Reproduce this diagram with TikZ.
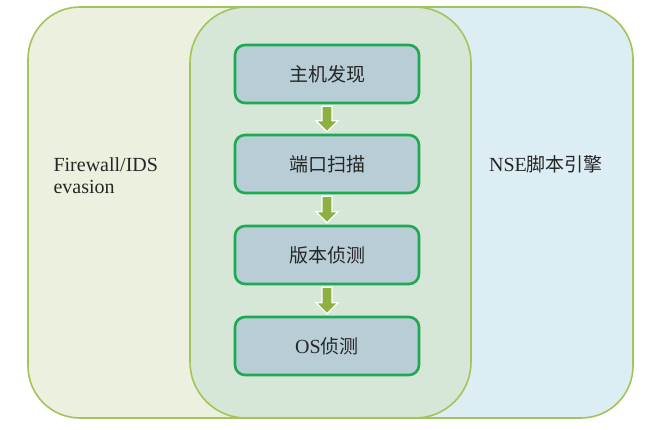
\documentclass[tikz,border=0pt]{standalone}
\usepackage{fontspec}
\setmainfont{Liberation Serif}
\newfontfamily\cjk{Noto Sans CJK SC}
\usetikzlibrary{calc}
\definecolor{leftfill}{HTML}{EBF1DE}
\definecolor{rightfill}{HTML}{DCEDF4}
\definecolor{midfill}{HTML}{D6E7D8}
\definecolor{outline}{HTML}{A3C45C}
\definecolor{boxfill}{HTML}{B8CDD6}
\definecolor{boxline}{HTML}{1EAA50}
\definecolor{arrowfill}{HTML}{8DB043}
\begin{document}
\begin{tikzpicture}[x=1pt,y=-1pt,
  region/.style={draw=outline,line width=1.6pt,rounded corners=52pt},
  stepbox/.style={draw=boxline,fill=boxfill,line width=2.6pt,rounded corners=10pt,
    minimum width=184pt,minimum height=58pt,inner sep=0pt,font=\cjk\fontsize{19}{22}\selectfont,text=black!85},
  blockarrow/.style={fill=arrowfill,draw=white,line width=1.2pt,line join=miter}]
\useasboundingbox (0,0) rectangle (646,429);
\fill[white] (0,0) rectangle (646,429);
\draw[region,fill=leftfill] (28,7) rectangle (440,418);
\draw[region,fill=rightfill] (220,7) rectangle (633,418);
\draw[region,fill=midfill,rounded corners=56pt] (190,7) rectangle (471,418);
\node[stepbox] (b1) at (327,74) {主机发现};
\node[stepbox] (b2) at (327,164) {端口扫描};
\node[stepbox] (b3) at (327,255) {版本侦测};
\node[stepbox] (b4) at (327,346) {{\rmfamily\fontsize{20}{22}\selectfont OS}侦测};
\foreach \a/\b in {b1/b2,b2/b3,b3/b4}{
  \draw[blockarrow] ($(\a.south)+(-5,2)$) -- ($(\a.south)+(5,2)$) -- ($(\b.north)+(5,-13)$)
    -- ($(\b.north)+(11,-13)$) -- ($(\b.north)+(0,-2)$) -- ($(\b.north)+(-11,-13)$)
    -- ($(\b.north)+(-5,-13)$) -- cycle;
}
\node[anchor=west,align=left,font=\fontsize{20}{22}\selectfont,text=black!85] (fw) at (50,176) {Firewall/IDS\\evasion};
\node[font=\fontsize{20}{22}\selectfont,text=black!85] (nse) at (546,164) {NSE{\cjk\fontsize{19}{22}\selectfont 脚本引擎}};
\end{tikzpicture}
\end{document}
